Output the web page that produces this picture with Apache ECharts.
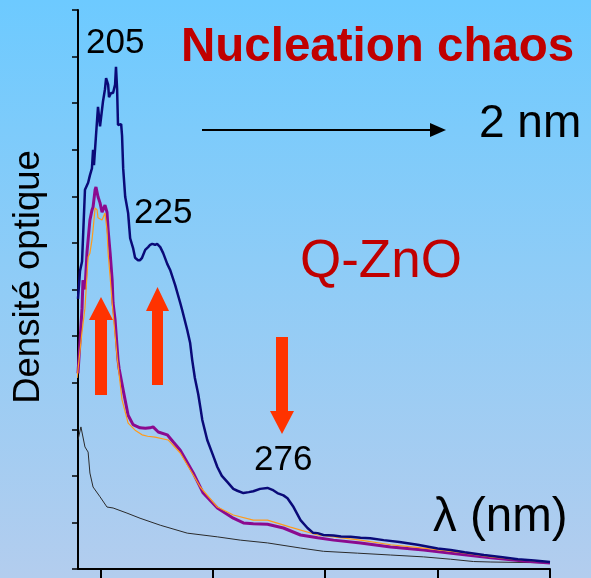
<!DOCTYPE html>
<html>
<head>
<meta charset="utf-8">
<script src="https://cdn.jsdelivr.net/npm/echarts@6.0.0/dist/echarts.min.js"></script>
<style>
  html, body { margin: 0; padding: 0; }
  body { background: linear-gradient(to bottom, #6dcaff 0%, #8dccf7 45%, #b3cdee 100%); }
  #chart { width: 591px; height: 578px; }
</style>
</head>
<body>
<div id="chart"></div>
<script>
// spectres UV-vis, lambda en nm, densité optique en unités arbitraires
var navyX = [190, 190.9, 191.8, 193.1, 194.5, 195.3, 196.2, 196.7, 197.1, 198.0, 198.9, 199.8, 200.3, 201.1, 202.0, 202.5, 203.4, 203.8, 204.7, 205.6, 206.5, 206.9, 207.4, 207.8, 208.3, 209.2, 209.6, 210.1, 211.0, 212.3, 213.2, 214.5, 215.4, 216.7, 217.6, 218.5, 219.9, 221.2, 222.1, 223.0, 224.3, 225.2, 226.6, 227.9, 229.7, 231.0, 233.2, 235.5, 236.4, 238.6, 239.9, 240.8, 242.0, 243.5, 244.4, 245.3, 247.5, 250, 252.0, 254, 256.4, 259.1, 260.9, 263.6, 266, 268.0, 271, 274.3, 276.5, 278.7, 281.4, 283.2, 285.9, 289.0, 292.1, 294.5, 296.6, 299.2, 303.7, 307, 311.3, 315.7, 320, 326.0, 333, 341.1, 350, 355.8, 362, 370.6, 378, 385.7, 393, 400];
var navyY = [5.8, 6.4, 6.6, 8.14, 8.29, 8.45, 8.6, 9.0, 8.67, 9.3, 9.92, 9.5, 9.47, 10.03, 10.3, 10.54, 10.4, 10.13, 10.22, 10.22, 10.4, 10.78, 10.3, 9.53, 9.5, 9.55, 9.3, 8.6, 7.99, 7.64, 7.1, 6.89, 6.68, 6.63, 6.63, 6.68, 6.85, 6.91, 6.96, 6.98, 6.96, 6.98, 6.91, 6.78, 6.55, 6.42, 6.1, 5.71, 5.55, 5.13, 4.85, 4.49, 4.1, 3.75, 3.48, 3.2, 2.77, 2.45, 2.19, 2.0, 1.87, 1.72, 1.68, 1.63, 1.65, 1.67, 1.72, 1.74, 1.70, 1.63, 1.58, 1.52, 1.33, 1.05, 0.88, 0.78, 0.77, 0.73, 0.72, 0.70, 0.69, 0.67, 0.66, 0.62, 0.58, 0.52, 0.44, 0.41, 0.36, 0.30, 0.26, 0.21, 0.18, 0.15];

var purpleX = [190, 190.9, 191.8, 192.2, 193.1, 194.0, 195.3, 196.2, 196.7, 197.6, 198.0, 198.5, 198.9, 199.8, 200.7, 201.1, 202.0, 202.9, 203.4, 204.3, 205.2, 205.6, 206.5, 207.8, 208.3, 210.1, 212.3, 214.5, 215.4, 217.6, 220, 222, 223.4, 225.7, 229.7, 232.5, 235.5, 241.3, 245.7, 252.0, 259.1, 263.6, 268, 274.3, 281.4, 289.0, 296.6, 303.7, 315.7, 329.1, 343.8, 359.0, 373.7, 388.4, 400];
var purpleY = [4.2, 4.9, 5.6, 6.2, 6.0, 6.8, 7.49, 7.7, 7.77, 8.14, 8.2, 8.24, 7.99, 7.86, 7.66, 7.64, 7.81, 7.66, 7.28, 6.78, 6.2, 5.71, 5.35, 4.49, 4.3, 3.84, 3.30, 3.10, 3.08, 3.03, 3.02, 3.03, 3.05, 2.94, 2.88, 2.72, 2.55, 2.06, 1.63, 1.31, 1.09, 0.99, 0.97, 0.96, 0.88, 0.73, 0.67, 0.62, 0.56, 0.47, 0.41, 0.32, 0.24, 0.17, 0.13];

var orangeX = [189.6, 191.8, 193.1, 194.5, 195.3, 196.2, 196.7, 197.6, 198.5, 198.9, 200.7, 202.0, 202.9, 203.4, 204.3, 205.2, 207.4, 209.6, 212.3, 215.4, 218.5, 221, 224.3, 230.1, 235.5, 244.4, 252, 259.1, 268, 274.3, 284.5, 296.6, 315.7, 329.1, 343.8, 359.0, 373.7, 388, 400];
var orangeY = [4.10, 5.1, 5.6, 6.7, 6.78, 7.06, 7.28, 7.75, 7.71, 7.54, 7.49, 7.64, 7.28, 6.78, 6.27, 5.71, 4.55, 3.63, 3.13, 2.98, 2.88, 2.85, 2.83, 2.77, 2.49, 1.76, 1.33, 1.16, 1.05, 1.05, 0.90, 0.73, 0.62, 0.52, 0.45, 0.36, 0.26, 0.19, 0.15];

var blackX = [190, 191.3, 193.1, 194.5, 195.3, 196.7, 199.8, 202.9, 205.6, 211.8, 217.6, 226.6, 238.6, 252.0, 262.2, 274.3, 289.0, 299.2, 314.4, 329.1, 343.8, 355.8, 366, 373.7, 388, 400];
var blackY = [2.77, 3.05, 2.62, 2.51, 2.06, 1.76, 1.55, 1.33, 1.31, 1.20, 1.09, 0.94, 0.77, 0.69, 0.62, 0.56, 0.45, 0.38, 0.34, 0.30, 0.26, 0.21, 0.16, 0.15, 0.14, 0.13];

var xTicks = [200, 250, 300, 350, 400];

function pairs(xs, ys) {
  return xs.map(function (x, i) { return [x, ys[i]]; });
}

var chart = echarts.init(document.getElementById('chart'));
var FONT = '"Liberation Sans", Arial, sans-serif';
var RED = '#ff3300';

function line(name, xs, ys, color, width) {
  return {
    name: name,
    type: 'line',
    data: pairs(xs, ys),
    showSymbol: false,
    silent: true,
    lineStyle: { color: color, width: width },
    itemStyle: { color: color }
  };
}

var option = {
  animation: false,
  backgroundColor: 'transparent',
  grid: { left: 78, right: 41, top: 10, bottom: 9 },
  xAxis: {
    type: 'value',
    min: 190,
    max: 400,
    splitLine: { show: false },
    axisLine: { lineStyle: { color: '#000', width: 2 } },
    axisTick: { show: true, length: 10, customValues: xTicks, lineStyle: { color: '#000', width: 2 } },
    axisLabel: { show: false }
  },
  yAxis: {
    type: 'value',
    min: 0,
    max: 12,
    interval: 1,
    splitLine: { show: false },
    axisLine: { show: true, lineStyle: { color: '#000', width: 2 } },
    axisTick: { show: true, length: 6, lineStyle: { color: '#000', width: 1.5 } },
    axisLabel: { show: false }
  },
  series: [
    line('ref', blackX, blackY, '#2a2a2a', 1),
    line('t1', purpleX, purpleY, '#8b0a8f', 3),
    line('t2', orangeX, orangeY, '#ff9a1a', 1.2),
    line('t3', navyX, navyY, '#0a0a78', 2.5)
  ],
  graphic: [
    { type: 'text', x: 86, y: 43, style: { text: '205', font: '35px ' + FONT, fill: '#000', textVerticalAlign: 'middle' } },
    { type: 'text', x: 134, y: 213, style: { text: '225', font: '35px ' + FONT, fill: '#000', textVerticalAlign: 'middle' } },
    { type: 'text', x: 254, y: 460, style: { text: '276', font: '35px ' + FONT, fill: '#000', textVerticalAlign: 'middle' } },
    { type: 'text', x: 181, y: 48, style: { text: 'Nucleation chaos', font: 'bold 47.5px ' + FONT, fill: '#c00000', textVerticalAlign: 'middle' } },
    { type: 'text', x: 479, y: 124, style: { text: '2 nm', font: '46px ' + FONT, fill: '#000', textVerticalAlign: 'middle' } },
    { type: 'text', x: 300, y: 262, style: { text: 'Q-ZnO', font: '53px ' + FONT, fill: '#c00000', textVerticalAlign: 'middle' } },
    { type: 'text', x: 433, y: 518, style: { text: 'λ (nm)', font: '47.5px ' + FONT, fill: '#000', textVerticalAlign: 'middle' } },
    { type: 'text', x: 29, y: 277, rotation: Math.PI / 2, style: { text: 'Densité optique', font: '36.5px ' + FONT, fill: '#000', textAlign: 'center', textVerticalAlign: 'middle' } },
    // flèche horizontale
    { type: 'line', shape: { x1: 202, y1: 130, x2: 432, y2: 130 }, style: { stroke: '#000', lineWidth: 2 } },
    { type: 'polygon', shape: { points: [[430, 123], [446, 130], [430, 137]] }, style: { fill: '#000' } },
    // flèches rouges
    { type: 'polygon', shape: { points: [[95, 395], [95, 320], [89, 320], [101, 297], [113, 320], [107, 320], [107, 395]] }, style: { fill: RED } },
    { type: 'polygon', shape: { points: [[152, 385], [152, 311], [146, 311], [157.5, 287], [169, 311], [163, 311], [163, 385]] }, style: { fill: RED } },
    { type: 'polygon', shape: { points: [[276, 337], [288, 337], [288, 411], [294, 411], [282, 434], [270, 411], [276, 411]] }, style: { fill: RED } }
  ]
};

chart.setOption(option);
</script>
</body>
</html>
